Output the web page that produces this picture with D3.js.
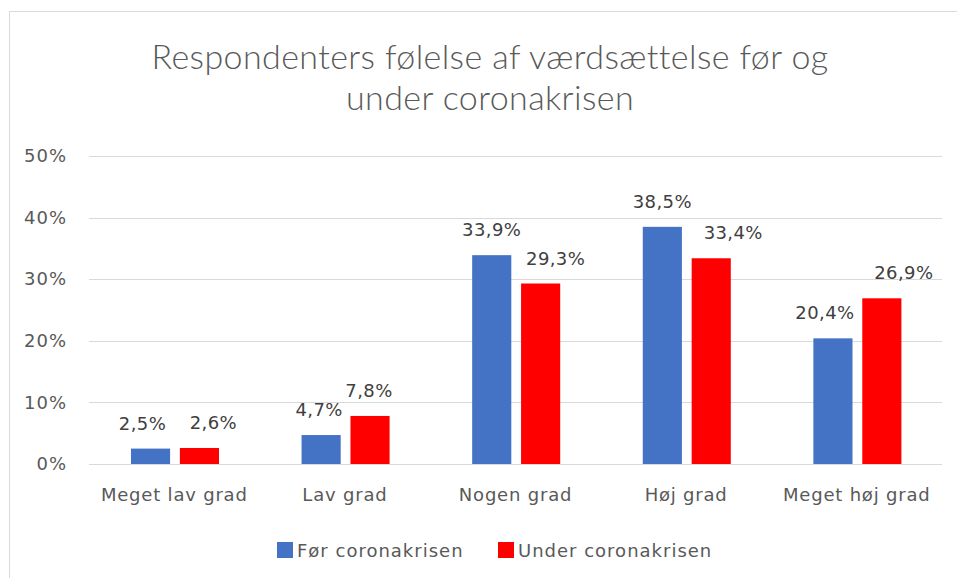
<!DOCTYPE html>
<html>
<head>
<meta charset="utf-8">
<script src="https://cdn.jsdelivr.net/npm/d3@7"></script>
<style>
  body { margin: 0; background: #fff; }
  #container { width: 957px; height: 578px; }
</style>
</head>
<body>
<div id="container"></div>
<script>
// chart data
const categories = ["Meget lav grad", "Lav grad", "Nogen grad", "Høj grad", "Meget høj grad"];
const seriesNames = ["Før coronakrisen", "Under coronakrisen"];
const foer = [2.5, 4.7, 33.9, 38.5, 20.4];
const under = [2.6, 7.8, 29.3, 33.4, 26.9];
const yTicks = [0, 10, 20, 30, 40, 50];
const titleLines = ["Respondenters følelse af værdsættelse før og", "under coronakrisen"];

// excel nudged some data labels sideways so they don't collide (px)
const labelNudge = [[-8, -2, 0, 0, -8], [14, -1, 15, 22, 22]];

const colors = ["#4472C4", "#FF0000"];
const textColor = "#595959";
const axisFont = "'DejaVu Sans', sans-serif";

const width = 957, height = 578;
const margin = { top: 156, right: 15, bottom: 114, left: 89 };
const chartWidth = width - margin.left - margin.right;
const chartHeight = height - margin.top - margin.bottom;

const svg = d3.select("#container").append("svg")
              .attr("width", width)
              .attr("height", height);

// outer chart frame
svg.append("rect")
   .attr("x", 9.5).attr("y", 11.5)
   .attr("width", width).attr("height", height)
   .attr("fill", "white")
   .attr("stroke", "#d9d9d9");

// title
svg.append("text")
   .attr("x", 490).attr("y", 69)
   .attr("text-anchor", "middle")
   .style("font-family", "Lato, 'Open Sans', sans-serif")
   .style("font-weight", 300)
   .style("font-size", "34px")
   .style("letter-spacing", "0.4px")
   .attr("fill", textColor)
   .selectAll("tspan")
   .data(titleLines)
   .join("tspan")
   .attr("x", 490)
   .attr("dy", (d, i) => i === 0 ? 0 : 41)
   .text(d => d);

const chart = svg.append("g").attr("transform", "translate(" + margin.left + "," + margin.top + ")");

const xScale = d3.scaleBand().domain(categories).range([0, chartWidth]);
const yScale = d3.scaleLinear().domain([0, 50]).range([chartHeight, 0]);
const innerScale = d3.scaleBand().domain(seriesNames)
                     .range([xScale.bandwidth() * 0.246, xScale.bandwidth() * 0.762])
                     .paddingInner(0.2);

// gridlines
chart.selectAll(".grid")
     .data(yTicks)
     .join("line")
     .attr("class", "grid")
     .attr("x1", 0).attr("x2", chartWidth)
     .attr("y1", d => Math.round(yScale(d)) + 0.5)
     .attr("y2", d => Math.round(yScale(d)) + 0.5)
     .attr("stroke", "#d9d9d9")
     .attr("stroke-width", 1);

// y axis labels
const yAxis = d3.axisLeft(yScale).tickValues(yTicks).tickSize(0).tickPadding(22)
                .tickFormat(d => d + "%");
chart.append("g").call(yAxis)
     .call(g => g.select(".domain").remove())
     .selectAll("text")
     .style("font-family", axisFont)
     .style("font-size", "18px")
     .style("letter-spacing", "1px")
     .attr("fill", textColor);

// x axis labels
const xAxis = d3.axisBottom(xScale).tickSize(0).tickPadding(24);
chart.append("g").attr("transform", "translate(0," + chartHeight + ")").call(xAxis)
     .call(g => g.select(".domain").remove())
     .selectAll("text")
     .style("font-family", axisFont)
     .style("font-size", "18px")
     .style("letter-spacing", "0.8px")
     .attr("fill", textColor);

const rows = categories.map((c, i) => ({ cat: c, i: i, values: [foer[i], under[i]] }));

const groups = chart.selectAll(".group")
                    .data(rows)
                    .join("g")
                    .attr("class", "group")
                    .attr("transform", d => "translate(" + xScale(d.cat) + ",0)");

groups.selectAll("rect")
      .data(d => d.values.map((v, j) => ({ name: seriesNames[j], v: v, j: j, i: d.i })))
      .join("rect")
      .attr("x", d => innerScale(d.name))
      .attr("width", innerScale.bandwidth())
      .attr("y", d => yScale(d.v))
      .attr("height", d => chartHeight - yScale(d.v))
      .attr("fill", d => colors[d.j]);

groups.selectAll(".lbl")
      .data(d => d.values.map((v, j) => ({ name: seriesNames[j], v: v, j: j, i: d.i })))
      .join("text")
      .attr("class", "lbl")
      .attr("x", d => innerScale(d.name) + innerScale.bandwidth() / 2 + labelNudge[d.j][d.i])
      .attr("y", d => yScale(d.v) - 19)
      .attr("text-anchor", "middle")
      .style("font-family", axisFont)
      .style("font-size", "18px")
      .style("letter-spacing", "0.4px")
      .attr("fill", "#404040")
      .text(d => d3.format(".1f")(d.v).replace(".", ",") + "%");

// legend
const legend = svg.append("g").attr("transform", "translate(277,542)");
const legendItems = legend.selectAll("g")
                          .data(seriesNames)
                          .join("g")
                          .attr("transform", (d, i) => "translate(" + (i * 221) + ",0)");
legendItems.append("rect")
           .attr("width", 16).attr("height", 16)
           .attr("fill", (d, i) => colors[i]);
legendItems.append("text")
           .attr("x", 20).attr("y", 15)
           .style("font-family", axisFont)
           .style("font-size", "18px")
           .style("letter-spacing", "1px")
           .attr("fill", textColor)
           .text(d => d);
</script>
</body>
</html>
